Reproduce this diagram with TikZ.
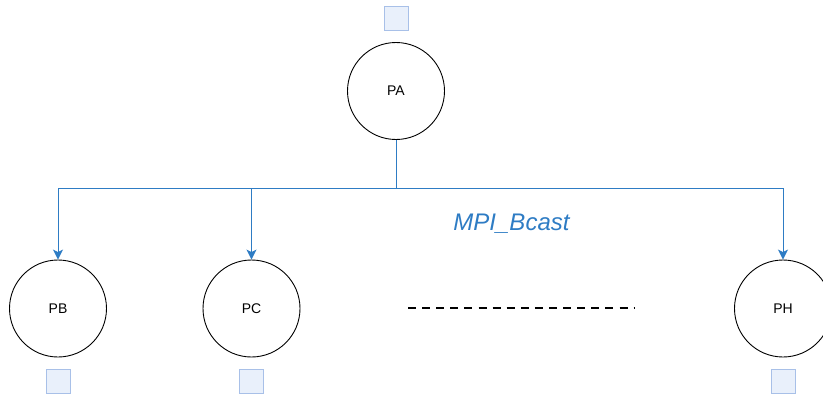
\documentclass[tikz,border=0pt]{standalone}
\usepackage{fontspec}
\setmainfont{Liberation Sans}
\usetikzlibrary{arrows.meta}
\definecolor{linkblue}{RGB}{46,124,196}
\definecolor{boxfill}{RGB}{233,240,251}
\definecolor{boxline}{RGB}{168,192,232}
\tikzset{
  proc/.style={circle, draw=black, line width=0.9pt, minimum size=97pt, inner sep=0pt, font=\fontsize{14pt}{16pt}\selectfont},
  buf/.style={rectangle, draw=boxline, fill=boxfill, line width=0.9pt, minimum size=24pt, inner sep=0pt},
  bcast/.style={draw=linkblue, line width=1pt, -{Stealth[length=10pt,width=10pt,inset=2.5pt]}},
}
\begin{document}
\begin{tikzpicture}[x=1pt, y=-1pt]
\useasboundingbox (0,0) rectangle (823,396);
\node[buf] (sa) at (396.5,18.5) {};
\node[proc] (PA) at (396,91) {PA};
\node[proc] (PB) at (58,308.5) {PB};
\node[proc] (PC) at (251.5,308.5) {PC};
\node[proc] (PH) at (783,308.5) {PH};
\node[buf] (sb) at (58,381.5) {};
\node[buf] (sc) at (251.5,381.5) {};
\node[buf] (sh) at (783.5,381.5) {};
\coordinate (j) at (396,188);
\draw[bcast] (PA.south) -- (j) -| (PB.north);
\draw[bcast] (PA.south) -- (j) -| (PC.north);
\draw[bcast] (PA.south) -- (j) -| (PH.north);
\node[text=linkblue, font=\fontsize{24pt}{28pt}\selectfont\itshape] (lbl) at (511.5,224) {MPI\_Bcast};
\coordinate (d1) at (408,308);
\coordinate (d2) at (634,308);
\draw[line width=2.2pt, dash pattern=on 8pt off 6.1pt] (d1) -- (d2);
\end{tikzpicture}
\end{document}
